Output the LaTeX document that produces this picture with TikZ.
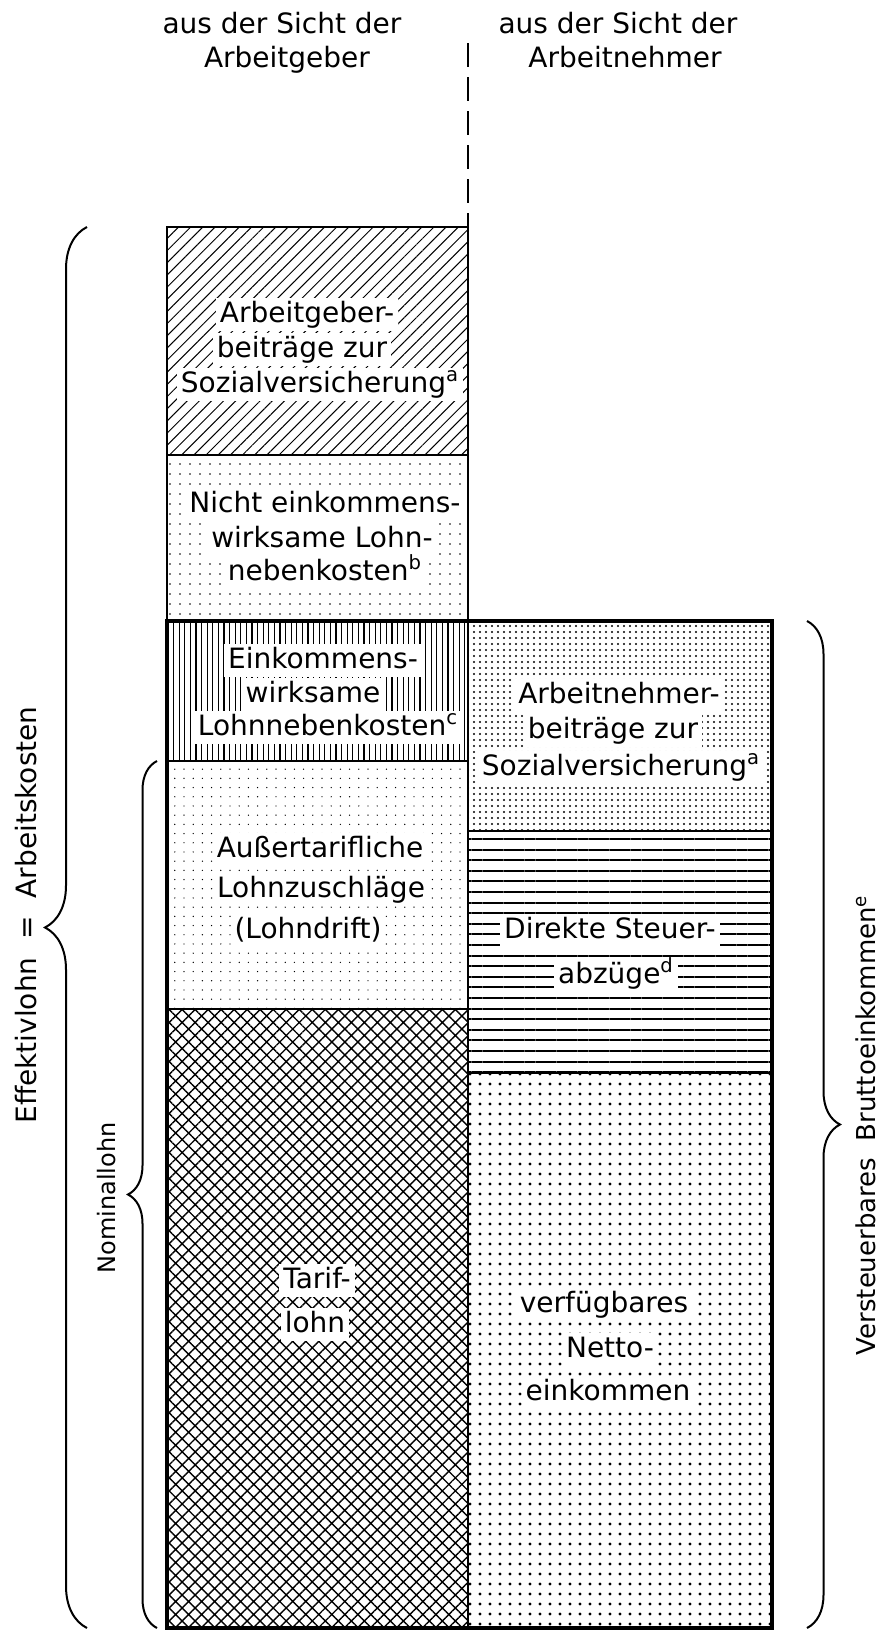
\documentclass[tikz,border=0pt]{standalone}
\usepackage{fontspec}
\setmainfont{DejaVu Sans}
\usetikzlibrary{patterns.meta, decorations.pathreplacing}

\begin{document}
\begin{tikzpicture}[x=0.5pt, y=-0.5pt,
  boxtext/.style={anchor=base, fill=white, inner xsep=2pt, inner ysep=1.5pt, text height=10.5pt, text depth=3pt, font=\fontsize{14}{17}\selectfont},
  headtext/.style={anchor=base, inner sep=0pt, font=\fontsize{14}{17}\selectfont},
  sidetext/.style={rotate=90, inner sep=0pt, font=\fontsize{14}{17}\selectfont},
  bracket/.style={decorate, decoration={brace, amplitude=#1}, line width=1pt},
  cellline/.style={line width=0.8pt},
  midline/.style={line width=1.2pt},
  outerline/.style={line width=1.8pt}]
\useasboundingbox (0,0) rectangle (884,1634);
\fill[pattern={Lines[angle=45, distance=4.3pt, line width=0.5pt]}] (167,227) rectangle (468,455);
\fill[pattern={Dots[distance=5pt, radius=0.4pt]}] (167,455) rectangle (468,621);
\fill[pattern={Lines[angle=90, distance=2.8pt, line width=0.6pt]}] (167,621) rectangle (468,761);
\fill[pattern={Dots[distance=4.6pt, radius=0.35pt]}] (167,761) rectangle (468,1009);
\fill[pattern={Hatch[angle=45, distance=4.6pt, line width=0.7pt]}] (167,1009) rectangle (468,1628);
\fill[pattern={Dots[distance=3pt, radius=0.55pt]}] (468,621) rectangle (772,831);
\fill[pattern={Lines[angle=0, distance=5.3pt, line width=1pt]}] (468,831) rectangle (772,1073);
\fill[pattern={Dots[distance=5pt, radius=0.8pt]}] (468,1073) rectangle (772,1628);
\draw[cellline] (167,455) -- (468,455);
\draw[cellline] (167,1009) -- (468,1009);
\draw[midline] (167,761) -- (468,761);
\draw[midline] (468,621) -- (468,1628);
\draw[midline] (468,831) -- (772,831);
\draw[midline] (468,1073) -- (772,1073);
\draw[midline] (167,227) rectangle (468,621);
\draw[outerline] (167,621) rectangle (772,1628);
\coordinate (dtop) at (468,43);
\coordinate (dbot) at (468,227);
\draw[line width=0.8pt, dash pattern=on 12pt off 5pt] (dtop) -- (dbot);
\node[headtext] (agtitle1) at (282,33) {aus der Sicht der};
\node[headtext] (agtitle2) at (287,67) {Arbeitgeber};
\node[headtext] (antitle1) at (618,33) {aus der Sicht der};
\node[headtext] (antitle2) at (625,67) {Arbeitnehmer};
\node[boxtext] (ag1) at (307,322) {Arbeitgeber-};
\node[boxtext] (ag2) at (302,357) {beiträge zur};
\node[boxtext] (ag3) at (320,392) {Sozialversicherung\textsuperscript{a}};
\node[boxtext] (ne1) at (325,512) {Nicht einkommens-};
\node[boxtext] (ne2) at (322,547) {wirksame Lohn-};
\node[boxtext] (ne3) at (325,580) {nebenkosten\textsuperscript{b}};
\node[boxtext] (ek1) at (323,668) {Einkommens-};
\node[boxtext] (ek2) at (313,702) {wirksame};
\node[boxtext] (ek3) at (328,735) {Lohnnebenkosten\textsuperscript{c}};
\node[boxtext] (at1) at (320,857) {Außertarifliche};
\node[boxtext] (at2) at (321,897) {Lohnzuschläge};
\node[boxtext] (at3) at (308,938) {(Lohndrift)};
\node[boxtext] (tl1) at (317,1288) {Tarif-};
\node[boxtext] (tl2) at (315,1332) {lohn};
\node[boxtext] (an1) at (619,703) {Arbeitnehmer-};
\node[boxtext] (an2) at (613,738) {beiträge zur};
\node[boxtext] (an3) at (621,775) {Sozialversicherung\textsuperscript{a}};
\node[boxtext] (st1) at (610,938) {Direkte Steuer-};
\node[boxtext] (st2) at (616,983) {abzüge\textsuperscript{d}};
\node[boxtext] (ne4) at (604,1312) {verfügbares};
\node[boxtext] (ne5) at (610,1357) {Netto-};
\node[boxtext] (ne6) at (608,1400) {einkommen};
\coordinate (eff1) at (87,1628);
\coordinate (eff2) at (87,227);
\draw[bracket=21pt] (eff1) -- (eff2);
\coordinate (nom1) at (157,1628);
\coordinate (nom2) at (157,761);
\draw[bracket=14.5pt] (nom1) -- (nom2);
\coordinate (brut1) at (807,621);
\coordinate (brut2) at (807,1628);
\draw[bracket=16.5pt] (brut1) -- (brut2);
\node[sidetext] (effektiv) at (26,915) {Effektivlohn\ \ =\ \ Arbeitskosten};
\node[sidetext, font=\fontsize{12}{14}\selectfont] (nominal) at (107,1198) {Nominallohn};
\node[sidetext, font=\fontsize{13}{15}\selectfont] (brutto) at (866,1125) {Versteuerbares\ \ Bruttoeinkommen\textsuperscript{e}};
\end{tikzpicture}
\end{document}
